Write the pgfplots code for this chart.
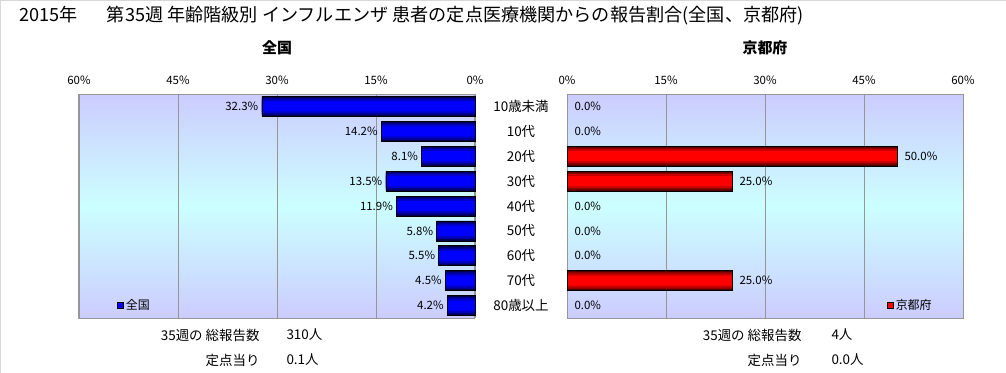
\documentclass[border=0pt]{standalone}
\usepackage{pgfplots}
\pgfplotsset{compat=1.18}
\usepackage{fontspec}
\setmainfont{Noto Sans CJK JP}
\definecolor{bglav}{RGB}{204,204,255}
\definecolor{bgcyan}{RGB}{204,255,255}
\definecolor{gridg}{RGB}{150,150,150}
\definecolor{barblue}{RGB}{0,0,255}
\definecolor{barred}{RGB}{255,0,0}
\definecolor{frameg}{RGB}{215,215,215}

\pgfplotsset{
 panel/.style={scale only axis, width=396bp, height=224bp, anchor=south west,
   xmin=0, xmax=60, ymin=-0.5, ymax=8.5, y dir=reverse,
   xtick={0,15,30,45,60}, xticklabels={0\%,15\%,30\%,45\%,60\%},
   xticklabel pos=right, major tick length=0pt,
   xticklabel style={yshift=6bp},
   /pgf/number format/assume math mode=true,
   xmajorgrids, grid style={gridg, line width=0.8bp},
   axis line style={gridg, line width=1bp},
   ytick={0,...,8},
   tick label style={font=\fontsize{11.5}{12}\selectfont},
   axis background/.style={top color=bglav, bottom color=bglav, middle color=bgcyan},
   xbar, bar shift=0pt,
   clip=false,
   legend style={draw=none, fill=none, font=\fontsize{12}{13}\selectfont, inner sep=0pt, anchor=west},
 },
 labels/.style={nodes near coords={\pgfmathprintnumber[fixed,fixed zerofill,precision=1,assume math mode=true]{\pgfplotspointmeta}\%},
   point meta=x},
}

\pgfplotstableread{
v y
32.3 0
14.2 1
8.1 2
13.5 3
11.9 4
5.8 5
5.5 6
4.5 7
4.2 8
}\zenkoku
\pgfplotstableread{
v y
0 0
0 1
50 2
25 3
0 4
0 5
0 6
25 7
0 8
}\kyoto
\pgfplotstableread{
v y
50 2
25 3
25 7
}\kyotobars

\begin{document}
\begin{tikzpicture}
\path[use as bounding box] (0bp,0bp) rectangle (1006bp,373bp);
\draw[frameg, line width=1.5bp] (0.5bp,0bp) -- (0.5bp,372.5bp) -- (1006bp,372.5bp);

\node[anchor=west, font=\fontsize{18.2}{19}\selectfont] at (16bp,357bp)
 {2015年\hspace{1.6em}第35週 年齢階級別 インフルエンザ 患者の定点医療機関からの報告割合(全国、京都府)};
\node[font=\bfseries\fontsize{15}{16}\selectfont] at (277bp,325bp) {全国};
\node[font=\bfseries\fontsize{15}{16}\selectfont] at (765bp,325bp) {京都府};

% Left panel
\begin{axis}[panel, at={(79bp,55bp)}, x dir=reverse,
  yticklabel pos=right,
  yticklabels={10歳未満,10代,20代,30代,40代,50代,60代,70代,80歳以上},
  yticklabel style={font=\fontsize{13.5}{14}\selectfont, anchor=center, xshift=46bp},
  legend style={at={(0.096,0.058)}}]
\addplot[draw=none, fill=blue!30!black, bar width=20bp,
  legend image code/.code={\draw[fill=barblue,draw=black,line width=0.6bp] (0bp,-3bp) rectangle (6bp,3bp);}]
 table[x=v,y=y] {\zenkoku};
\addlegendentry{全国}
\addplot[draw=none, fill=blue!55!black, bar width=17bp, forget plot] table[x=v,y=y] {\zenkoku};
\addplot[draw=none, fill=blue!78!black, bar width=14bp, forget plot] table[x=v,y=y] {\zenkoku};
\addplot[draw=none, fill=barblue, bar width=10bp, forget plot] table[x=v,y=y] {\zenkoku};
\addplot[draw=black, line width=0.6bp, fill=none, bar width=20bp, forget plot, labels,
  nodes near coords style={font=\fontsize{11.5}{12}\selectfont, text=black, anchor=east}]
 table[x=v,y=y] {\zenkoku};
\end{axis}

% Right panel
\begin{axis}[panel, at={(567bp,55bp)},
  yticklabels={},
  legend style={at={(0.808,0.058)}}]
\addplot[draw=none, fill=red!30!black, bar width=20bp,
  legend image code/.code={\draw[fill=barred,draw=black,line width=0.6bp] (0bp,-3bp) rectangle (6bp,3bp);}]
 table[x=v,y=y] {\kyotobars};
\addlegendentry{京都府}
\addplot[draw=none, fill=red!55!black, bar width=17bp, forget plot] table[x=v,y=y] {\kyotobars};
\addplot[draw=none, fill=red!78!black, bar width=14bp, forget plot] table[x=v,y=y] {\kyotobars};
\addplot[draw=none, fill=barred, bar width=10bp, forget plot] table[x=v,y=y] {\kyotobars};
\addplot[draw=black, line width=0.6bp, fill=none, bar width=20bp, forget plot] table[x=v,y=y] {\kyotobars};
\addplot[draw=none, fill=none, bar width=20bp, forget plot, labels,
  nodes near coords style={font=\fontsize{11.5}{12}\selectfont, text=black, anchor=west, xshift=4bp}]
 table[x=v,y=y] {\kyoto};
\end{axis}

% Bottom texts
\node[anchor=east, font=\fontsize{13.5}{14}\selectfont] at (263bp,38bp) {35週の 総報告数};
\node[anchor=west, font=\fontsize{13.5}{14}\selectfont] at (283bp,38bp) {310人};
\node[anchor=east, font=\fontsize{13.5}{14}\selectfont] at (263bp,13bp) {定点当り};
\node[anchor=west, font=\fontsize{13.5}{14}\selectfont] at (283bp,13bp) {0.1人};
\node[anchor=east, font=\fontsize{13.5}{14}\selectfont] at (805bp,38bp) {35週の 総報告数};
\node[anchor=west, font=\fontsize{13.5}{14}\selectfont] at (828bp,38bp) {4人};
\node[anchor=east, font=\fontsize{13.5}{14}\selectfont] at (805bp,13bp) {定点当り};
\node[anchor=west, font=\fontsize{13.5}{14}\selectfont] at (828bp,13bp) {0.0人};
\end{tikzpicture}
\end{document}
